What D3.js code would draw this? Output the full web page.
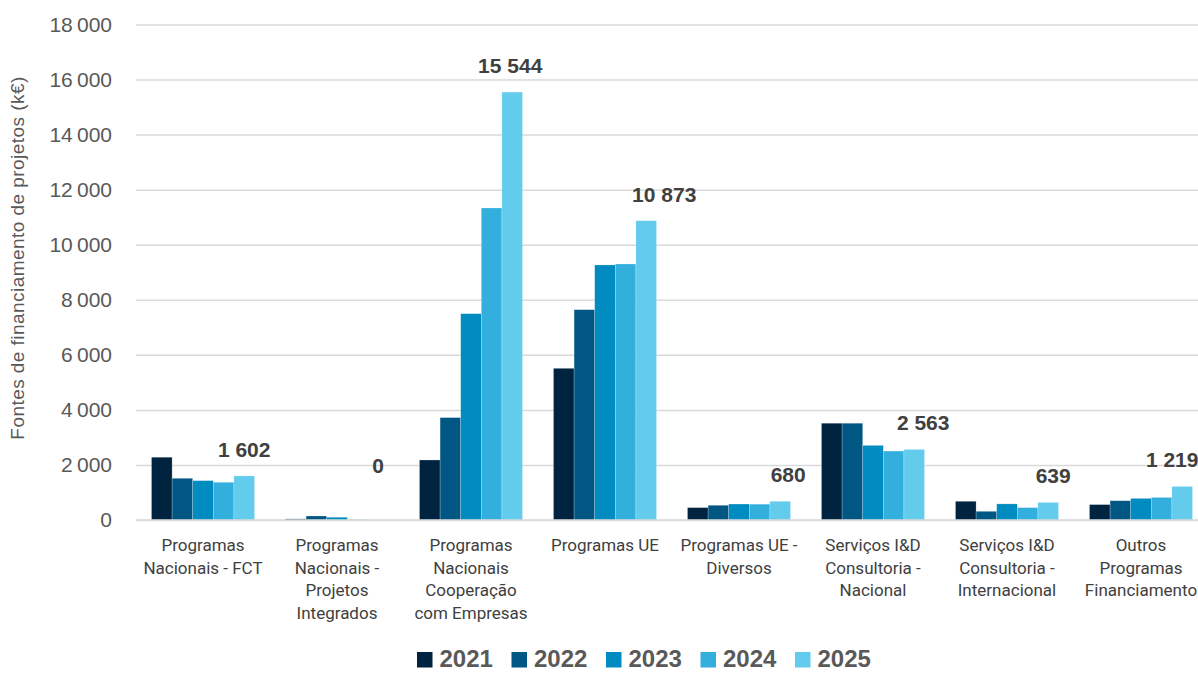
<!DOCTYPE html>
<html><head><meta charset="utf-8">
<script src="https://cdn.jsdelivr.net/npm/d3@7"></script>
<style>
html,body{margin:0;padding:0;background:#fff;}
svg{display:block;}
</style></head>
<body>
<svg id="chart" width="1198" height="673"></svg>
<script>
// ---- data ----
const categories = [
  ["Programas", "Nacionais - FCT"],
  ["Programas", "Nacionais -", "Projetos", "Integrados"],
  ["Programas", "Nacionais", "Cooperação", "com Empresas"],
  ["Programas UE"],
  ["Programas UE -", "Diversos"],
  ["Serviços I&D", "Consultoria -", "Nacional"],
  ["Serviços I&D", "Consultoria -", "Internacional"],
  ["Outros", "Programas", "Financiamento"]
];
const years = ["2021", "2022", "2023", "2024", "2025"];
const v2021 = [2280, 40, 2180, 5510, 450, 3515, 680, 560];
const v2022 = [1515, 145, 3720, 7640, 535, 3515, 315, 700];
const v2023 = [1430, 100, 7495, 9265, 580, 2710, 585, 785];
const v2024 = [1370, 15, 11335, 9300, 575, 2505, 450, 820];
const v2025 = [1602, 0, 15544, 10873, 680, 2563, 639, 1219];
const yTicks = [0, 2000, 4000, 6000, 8000, 10000, 12000, 14000, 16000, 18000];
const yTitle = "Fontes de financiamento de projetos (k€)";
// ---- layout / style ----
const colors = ["#002340", "#005783", "#008BC1", "#33AFDD", "#63CBEC"];
const labelNudge = [0, 0, -2, 18, 8, 9, 5, -10];

const series = [v2021, v2022, v2023, v2024, v2025];
const svg = d3.select("#chart");
const x0 = d3.scaleBand().domain(d3.range(categories.length)).range([136, 1208])
  .paddingInner(0.2313).paddingOuter(0.1157);
const x1 = d3.scaleBand().domain(years).range([0, x0.bandwidth()]);
const y = d3.scaleLinear().domain([0, 18000]).range([520, 24.5]);

const fmt = v => d3.format(",")(v).replace(/,/g, "\u2009");
const fmtSp = v => d3.format(",")(v).replace(/,/g, " ");

// grid
const yAxis = d3.axisLeft(y).tickValues(yTicks).tickSize(-(1198 - 136)).tickFormat(fmt).tickPadding(24);
const ga = svg.append("g").attr("transform", "translate(136,0)").call(yAxis);
ga.select(".domain").remove();
ga.selectAll(".tick line").attr("stroke", "#d9d9d9").attr("stroke-width", 1.5);
ga.selectAll(".tick text").attr("fill", "#595959").style("font-family", "Liberation Sans, Arial, sans-serif").style("font-size", "21px");

// y title
svg.append("text").attr("transform", "translate(24,258) rotate(-90)")
  .attr("text-anchor", "middle").attr("fill", "#595959")
  .style("font-family", "Liberation Sans, Arial, sans-serif").style("font-size", "19px")
  .style("letter-spacing", "0.45px")
  .text(yTitle);

// bars
const groups = svg.append("g").selectAll("g").data(categories).join("g")
  .attr("transform", (d, i) => `translate(${x0(i)},0)`);
groups.selectAll("rect").data((d, i) => years.map((yr, k) => ({yr, k, v: series[k][i]})))
  .join("rect")
  .attr("x", d => x1(d.yr))
  .attr("width", x1.bandwidth())
  .attr("y", d => y(d.v))
  .attr("height", d => y(0) - y(d.v))
  .attr("fill", d => colors[d.k])
  .attr("stroke", "#ffffff").attr("stroke-opacity", 0.35).attr("stroke-width", 0.6);

// baseline
svg.append("line").attr("x1", 136).attr("x2", 1198).attr("y1", y(0)).attr("y2", y(0))
  .attr("stroke", "#d9d9d9").attr("stroke-width", 1.5);

// value labels for 2025
svg.append("g").selectAll("text").data(v2025).join("text")
  .attr("x", (d, i) => x0(i) + x1("2025") + x1.bandwidth() / 2 + labelNudge[i])
  .attr("y", d => (d === 0 ? y(0) - 47 : y(d) - 19))
  .attr("text-anchor", "middle").attr("fill", "#404040")
  .style("font-family", "Liberation Sans, Arial, sans-serif").style("font-size", "21px").style("font-weight", "bold")
  .text(d => fmtSp(d));

// category labels
const cl = svg.append("g").selectAll("text").data(categories).join("text")
  .attr("x", (d, i) => x0(i) + x0.bandwidth() / 2)
  .attr("y", 551)
  .attr("text-anchor", "middle").attr("fill", "#404040")
  .style("font-family", "Liberation Sans Narrow, Roboto, Arial, sans-serif").style("font-size", "17px");
cl.selectAll("tspan").data(d => d).join("tspan")
  .attr("x", function () { return d3.select(this.parentNode).attr("x"); })
  .attr("dy", (d, j) => (j === 0 ? 0 : 22.5))
  .text(d => d);

// legend
const lg = svg.append("g").selectAll("g").data(years).join("g")
  .attr("transform", (d, i) => `translate(${417 + i * 94.5},652)`);
lg.append("rect").attr("width", 15.5).attr("height", 15.5).attr("fill", (d, i) => colors[i]);
lg.append("text").attr("x", 22.5).attr("y", 15.3).attr("fill", "#595959")
  .style("font-family", "Liberation Sans, Arial, sans-serif").style("font-size", "24px").style("font-weight", "bold")
  .text(d => d);
</script>
</body></html>
